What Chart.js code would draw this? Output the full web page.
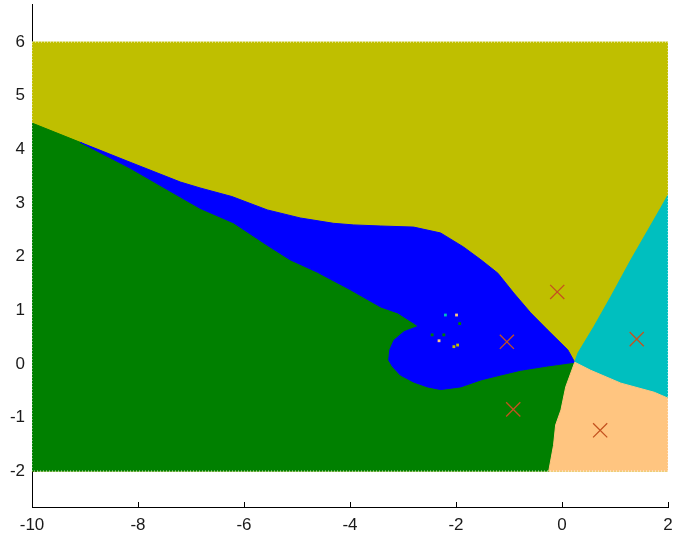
<!DOCTYPE html>
<html>
<head>
<meta charset="utf-8">
<script src="https://cdn.jsdelivr.net/npm/chart.js@4.4.1/dist/chart.umd.min.js"></script>
<style>
  html, body { margin: 0; padding: 0; background: #fff; }
  canvas { display: block; }
</style>
</head>
<body>
<canvas id="chart" width="675" height="540"></canvas>
<script>
// Axis ticks
const xTicks = [-10, -8, -6, -4, -2, 0, 2];
const yTicks = [-2, -1, 0, 1, 2, 3, 4, 5, 6];

// Grid extent of the classified domain
const domainX = [-10, 2];
const domainY = [-2, 6];

// Decision boundaries between the classes (x, y)
const yellowGreenEdge = [[-10, 4.49], [-9.09, 4.13]];
const yellowBlueEdge = [[-9.09, 4.13], [-8.15, 3.76], [-7.20, 3.39], [-6.83, 3.28], [-6.23, 3.12],
  [-5.56, 2.87], [-4.94, 2.72], [-4.31, 2.62], [-3.93, 2.59], [-3.42, 2.57], [-2.80, 2.55],
  [-2.29, 2.44], [-1.86, 2.18], [-1.53, 1.94], [-1.21, 1.69], [-0.91, 1.32], [-0.59, 0.95],
  [-0.27, 0.63], [0.11, 0.26], [0.24, 0.03]];
const greenBlueEdge = [[-9.09, 4.13], [-8.15, 3.65], [-7.20, 3.11], [-6.83, 2.90], [-6.20, 2.63],
  [-5.56, 2.21], [-5.13, 1.94], [-4.62, 1.71], [-3.99, 1.38], [-3.42, 1.06], [-3.10, 0.95],
  [-2.80, 0.76], [-2.71, 0.70]];
const blobEdge = [[-2.71, 0.70], [-2.98, 0.60], [-3.17, 0.44], [-3.25, 0.26], [-3.27, 0.07],
  [-3.20, -0.05], [-3.05, -0.21], [-2.80, -0.34], [-2.54, -0.43], [-2.29, -0.48], [-1.91, -0.43],
  [-1.53, -0.30], [-1.16, -0.21], [-0.78, -0.12], [-0.27, -0.04], [0.10, 0.01], [0.24, 0.03]];
const greenOrangeEdge = [[0.24, 0.03], [0.07, -0.43], [-0.02, -0.86], [-0.12, -1.14], [-0.16, -1.52], [-0.25, -2]];
const orangeCyanEdge = [[0.24, 0.03], [0.54, -0.12], [1.11, -0.36], [1.74, -0.53], [2, -0.64]];
const yellowCyanEdge = [[0.24, 0.03], [0.30, 0.20], [0.60, 0.69], [0.92, 1.25], [1.30, 1.94],
  [1.62, 2.49], [1.87, 2.92], [2, 3.15]];

// Class centres
const centreX = [-0.09, -1.04, 1.41, -0.92, 0.72];
const centreY = [1.34, 0.41, 0.46, -0.85, -1.24];

// Isolated misclassified grid cells near (-2.2, 0.6)
const speckleX = [-1.99, -1.93, -2.20, -2.45, -2.23, -2.32, -2.04, -1.97];
const speckleY = [0.91, 0.75, 0.91, 0.54, 0.54, 0.43, 0.32, 0.35];
const speckleClass = ['orange', 'green', 'cyan', 'green', 'green', 'orange', 'yellow', 'yellow'];

const colours = {
  yellow: '#bfbf00',
  green: '#008000',
  blue: '#0000ff',
  cyan: '#00bfbf',
  orange: '#ffc580'
};

const rev = a => a.slice().reverse();
const tail = a => a.slice(1);
const toPts = a => a.map(([x, y]) => ({ x, y }));

const rectangle = [[domainX[0], domainY[1]], [domainX[1], domainY[1]], [domainX[1], domainY[0]],
  [domainX[0], domainY[0]], [domainX[0], domainY[1]]];

const greenShape = yellowGreenEdge
  .concat(tail(greenBlueEdge), tail(blobEdge), tail(greenOrangeEdge), [[domainX[0], domainY[0]]]);
const blueShape = yellowBlueEdge.concat(tail(rev(blobEdge)), tail(rev(greenBlueEdge)));
const cyanShape = orangeCyanEdge.concat(rev(yellowCyanEdge));
const orangeShape = greenOrangeEdge.concat([[domainX[1], domainY[0]]], rev(orangeCyanEdge));

function region(label, pts, colour, order) {
  return {
    label, data: toPts(pts), showLine: true, fill: 'shape',
    backgroundColor: colour, borderColor: colour, borderWidth: 1,
    pointRadius: 0, pointHoverRadius: 0, tension: 0, order
  };
}

const tickFont = { family: "'Liberation Sans', Arial, sans-serif", size: 17 };

new Chart(document.getElementById('chart'), {
  type: 'scatter',
  data: {
    datasets: [
      {
        label: 'centres',
        data: centreX.map((x, i) => ({ x, y: centreY[i] })),
        pointStyle: 'crossRot', pointRadius: 10, pointHoverRadius: 10,
        borderColor: '#c4521f', backgroundColor: 'rgba(0,0,0,0)', pointBorderWidth: 1.3,
        showLine: false, order: 0
      },
      {
        label: 'edge',
        data: toPts(rectangle), showLine: true, fill: false,
        borderColor: 'rgba(255,255,255,0.85)', borderWidth: 1, borderDash: [1, 2],
        pointRadius: 0, pointHoverRadius: 0, order: 1
      },
      {
        label: 'speckles',
        data: speckleX.map((x, i) => ({ x, y: speckleY[i] })),
        pointStyle: 'rect', pointRadius: 2, pointHoverRadius: 2, borderWidth: 0,
        backgroundColor: speckleClass.map(c => colours[c]),
        showLine: false, order: 2
      },
      region('class 5', orangeShape, colours.orange, 3),
      region('class 4', cyanShape, colours.cyan, 4),
      region('class 2', blueShape, colours.blue, 5),
      region('class 3', greenShape, colours.green, 6),
      region('class 1', rectangle, colours.yellow, 7)
    ]
  },
  options: {
    responsive: false,
    animation: false,
    devicePixelRatio: 1,
    layout: { autoPadding: false, padding: { top: 4, right: 7, left: 0, bottom: 0 } },
    plugins: { legend: { display: false }, tooltip: { enabled: false } },
    scales: {
      x: {
        type: 'linear', position: 'bottom', min: -10, max: 2,
        afterBuildTicks: s => { s.ticks = xTicks.map(v => ({ value: v })); },
        afterFit: s => { s.height = 33; s.paddingLeft = 0; s.paddingRight = 0; },
        grid: { drawOnChartArea: false, drawTicks: true, tickLength: -5, color: '#000' },
        border: { display: true, color: '#000', width: 1 },
        ticks: { font: tickFont, color: '#1a1a1a', padding: 13, maxRotation: 0, autoSkip: false }
      },
      y: {
        type: 'linear', position: 'left', min: -2.67, max: 6.71,
        afterBuildTicks: s => { s.ticks = yTicks.map(v => ({ value: v })); },
        afterFit: s => { s.width = 32; s.paddingTop = 0; s.paddingBottom = 0; },
        grid: { drawOnChartArea: false, drawTicks: true, tickLength: -5, color: '#000' },
        border: { display: true, color: '#000', width: 1 },
        ticks: { font: tickFont, color: '#1a1a1a', padding: 12, autoSkip: false }
      }
    }
  }
});
</script>
</body>
</html>
